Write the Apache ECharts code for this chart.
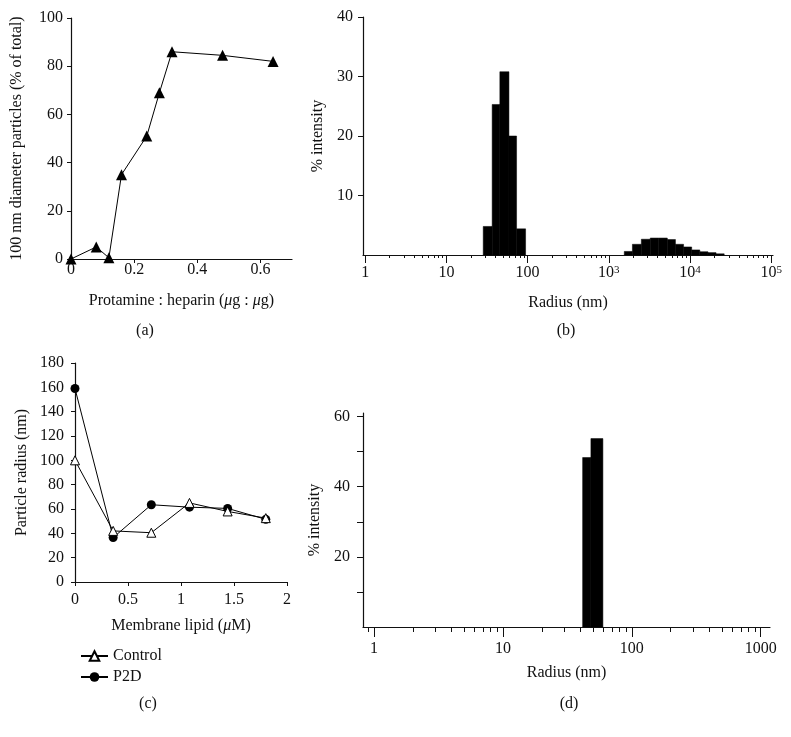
<!DOCTYPE html>
<html><head><meta charset="utf-8">
<script src="https://cdn.jsdelivr.net/npm/echarts@6/dist/echarts.min.js"></script>
<style>html,body{margin:0;padding:0;background:#fff}#c{width:791px;height:737px}</style>
</head><body><div id="c"></div>
<script>
// ---- Panel (a) ----
const ratioA = [0, 0.08, 0.12, 0.16, 0.24, 0.28, 0.32, 0.48, 0.64];
const pctA = [0, 5, 0.5, 35, 51, 69, 86, 84.5, 82];
// ---- Panel (b) histogram (radius bins in nm) ----
const binLoB = [28.4, 36.6, 45.5, 58.9, 73.1, 1549, 1950, 2512, 3236, 4074, 5248, 6607, 8318, 10471, 13183, 16596, 20893];
const binHiB = [36.6, 45.5, 58.9, 73.1, 94.4, 1950, 2512, 3236, 4074, 5248, 6607, 8318, 10471, 13183, 16596, 20893, 26303];
const intensityB = [4.8, 25.3, 30.8, 20.0, 4.4, 0.6, 1.8, 2.65, 2.85, 2.85, 2.6, 1.8, 1.35, 0.85, 0.55, 0.4, 0.2];
const majorTicksB = [1, 10, 100, 1000, 10000, 100000];
// ---- Panel (c) ----
const lipidC = [0, 0.36, 0.72, 1.08, 1.44, 1.8];
const controlC = [100, 42, 40.5, 65, 58, 52.5];
const p2dC = [159, 36.5, 63.5, 61.5, 60.5, 51.5];
// ---- Panel (d) ----
const binLoD = [41.5, 48.1];
const binHiD = [48.1, 59.6];
const intensityD = [48.3, 53.7];
const majorTicksD = [1, 10, 100, 1000];

const FONT = 'Liberation Serif';
const FS = 16;
const INK = '#111';

function minorTicks(lo, hi) {
  const out = [];
  for (let e = -1; e <= 5; e++) {
    for (let m = 1; m <= 9; m++) {
      const v = m * Math.pow(10, e);
      if (v >= lo && v <= hi) out.push(+v.toPrecision(3));
    }
  }
  return out;
}
function histData(lo, hi, val) {
  return lo.map((l, i) => [l, hi[i], val[i]]);
}
function renderHist(params, api) {
  const p0 = api.coord([api.value(0), 0]);
  const p1 = api.coord([api.value(1), api.value(2)]);
  return {
    type: 'rect',
    shape: { x: p0[0], y: p1[1], width: p1[0] - p0[0], height: p0[1] - p1[1] },
    style: { fill: '#000', stroke: '#000', lineWidth: 0.5 }
  };
}
function logLabel(v) {
  const e = Math.round(Math.log10(v));
  if (e < 3) return String(Math.round(v));
  return '10{s|' + e + '}';
}

const axisLineStyle = { lineStyle: { color: INK, width: 1.2 } };
const labelBase = { fontFamily: FONT, fontSize: FS, color: INK };
const nameBase = { fontFamily: FONT, fontSize: FS, color: INK, rich: { i: { fontFamily: FONT, fontSize: FS, fontStyle: 'italic', color: INK } } };

const option = {
  animation: false,
  backgroundColor: '#fff',
  textStyle: { fontFamily: FONT },
  grid: [
    { left: 71, top: 18, width: 221, height: 241 },
    { left: 363, top: 17, width: 410, height: 238 },
    { left: 75, top: 363, width: 212, height: 219 },
    { left: 363, top: 413, width: 407, height: 214 }
  ],
  xAxis: [
    { gridIndex: 0, type: 'value', position: 'bottom', min: 0, max: 0.7, interval: 0.2,
      axisLine: axisLineStyle, axisTick: { length: 4, lineStyle: { color: INK } },
      axisLabel: Object.assign({ margin: 3, showMaxLabel: false }, labelBase),
      splitLine: { show: false },
      name: 'Protamine : heparin ({i|μ}g : {i|μ}g)', nameLocation: 'middle', nameGap: 34, nameTextStyle: nameBase },
    { gridIndex: 1, type: 'log', position: 'bottom', min: 0.94, max: 105000,
      axisLine: axisLineStyle,
      axisTick: { length: 8, customValues: majorTicksB, lineStyle: { color: INK } },
      axisLabel: Object.assign({ margin: 10, customValues: majorTicksB, formatter: logLabel,
        rich: { s: { fontFamily: FONT, fontSize: 11, color: INK, verticalAlign: 'top', lineHeight: 10 } } }, labelBase),
      splitLine: { show: false },
      name: 'Radius (nm)', nameLocation: 'middle', nameGap: 40, nameTextStyle: nameBase },
    { gridIndex: 1, type: 'log', position: 'bottom', min: 0.94, max: 105000,
      axisLine: { show: false },
      axisTick: { length: 3, customValues: minorTicks(0.94, 105000), lineStyle: { color: INK } },
      axisLabel: { show: false }, splitLine: { show: false } },
    { gridIndex: 2, type: 'value', position: 'bottom', min: 0, max: 2, interval: 0.5,
      axisLine: axisLineStyle, axisTick: { length: 4, lineStyle: { color: INK } },
      axisLabel: Object.assign({ margin: 10 }, labelBase),
      splitLine: { show: false },
      name: 'Membrane lipid ({i|μ}M)', nameLocation: 'middle', nameGap: 36, nameTextStyle: nameBase },
    { gridIndex: 3, type: 'log', position: 'bottom', min: 0.82, max: 1180,
      axisLine: axisLineStyle,
      axisTick: { length: 10, customValues: majorTicksD, lineStyle: { color: INK } },
      axisLabel: Object.assign({ margin: 14, customValues: majorTicksD, formatter: v => String(Math.round(v)) }, labelBase),
      splitLine: { show: false },
      name: 'Radius (nm)', nameLocation: 'middle', nameGap: 38, nameTextStyle: nameBase },
    { gridIndex: 3, type: 'log', position: 'bottom', min: 0.82, max: 1180,
      axisLine: { show: false },
      axisTick: { length: 5, customValues: minorTicks(0.82, 1180), lineStyle: { color: INK } },
      axisLabel: { show: false }, splitLine: { show: false } }
  ],
  yAxis: [
    { gridIndex: 0, type: 'value', min: 0, max: 100, interval: 20,
      axisLine: { show: true, lineStyle: { color: INK, width: 1.2 } }, axisTick: { show: true, length: 4, lineStyle: { color: INK } },
      axisLabel: Object.assign({ margin: 8 }, labelBase), splitLine: { show: false },
      name: '100 nm diameter particles (% of total)', nameLocation: 'middle', nameRotate: 90, nameGap: 46, nameTextStyle: nameBase },
    { gridIndex: 1, type: 'value', min: 0, max: 40, interval: 10,
      axisLine: { show: true, lineStyle: { color: INK, width: 1.2 } }, axisTick: { show: true, length: 5, lineStyle: { color: INK } },
      axisLabel: Object.assign({ margin: 10, showMinLabel: false }, labelBase), splitLine: { show: false },
      name: '% intensity', nameLocation: 'middle', nameRotate: 90, nameGap: 36, nameTextStyle: nameBase },
    { gridIndex: 2, type: 'value', min: 0, max: 180, interval: 20,
      axisLine: { show: true, lineStyle: { color: INK, width: 1.2 } }, axisTick: { show: true, length: 4, lineStyle: { color: INK } },
      axisLabel: Object.assign({ margin: 11 }, labelBase), splitLine: { show: false },
      name: 'Particle radius (nm)', nameLocation: 'middle', nameRotate: 90, nameGap: 45, nameTextStyle: nameBase },
    { gridIndex: 3, type: 'value', min: 0, max: 61,
      axisLine: { show: true, lineStyle: { color: INK, width: 1.2 } },
      axisTick: { show: true, length: 6, customValues: [10, 20, 30, 40, 50, 60], lineStyle: { color: INK } },
      axisLabel: Object.assign({ margin: 13, customValues: [20, 40, 60] }, labelBase), splitLine: { show: false },
      name: '% intensity', nameLocation: 'middle', nameRotate: 90, nameGap: 36, nameTextStyle: nameBase }
  ],
  legend: {
    left: 75, top: 643, orient: 'vertical', itemWidth: 27, itemHeight: 12, itemGap: 5,
    data: ['Control', 'P2D'],
    textStyle: { fontFamily: FONT, fontSize: FS, color: INK }
  },
  series: [
    { type: 'line', xAxisIndex: 0, yAxisIndex: 0, data: ratioA.map((x, i) => [x, pctA[i]]),
      symbol: 'triangle', symbolSize: 11, itemStyle: { color: '#000' }, lineStyle: { color: '#000', width: 1 } },
    { type: 'custom', xAxisIndex: 1, yAxisIndex: 1, renderItem: renderHist,
      encode: { x: [0, 1], y: 2 }, data: histData(binLoB, binHiB, intensityB) },
    { name: 'Control', type: 'line', xAxisIndex: 3, yAxisIndex: 2, data: lipidC.map((x, i) => [x, controlC[i]]),
      symbol: 'triangle', symbolSize: 9, itemStyle: { color: '#fff', borderColor: '#000', borderWidth: 1 },
      lineStyle: { color: '#000', width: 1 }, z: 3 },
    { name: 'P2D', type: 'line', xAxisIndex: 3, yAxisIndex: 2, data: lipidC.map((x, i) => [x, p2dC[i]]),
      symbol: 'circle', symbolSize: 9, itemStyle: { color: '#000' }, lineStyle: { color: '#000', width: 1 }, z: 2 },
    { type: 'custom', xAxisIndex: 4, yAxisIndex: 3, renderItem: renderHist,
      encode: { x: [0, 1], y: 2 }, data: histData(binLoD, binHiD, intensityD) }
  ],
  graphic: [
    { type: 'text', x: 145, y: 331, style: { text: '(a)', font: FS + 'px "Liberation Serif"', fill: INK, textAlign: 'center', textVerticalAlign: 'middle' } },
    { type: 'text', x: 566, y: 331, style: { text: '(b)', font: FS + 'px "Liberation Serif"', fill: INK, textAlign: 'center', textVerticalAlign: 'middle' } },
    { type: 'text', x: 148, y: 704, style: { text: '(c)', font: FS + 'px "Liberation Serif"', fill: INK, textAlign: 'center', textVerticalAlign: 'middle' } },
    { type: 'text', x: 569, y: 704, style: { text: '(d)', font: FS + 'px "Liberation Serif"', fill: INK, textAlign: 'center', textVerticalAlign: 'middle' } }
  ]
};
const chart = echarts.init(document.getElementById('c'), null, { renderer: 'canvas' });
chart.setOption(option);
</script>
</body></html>
